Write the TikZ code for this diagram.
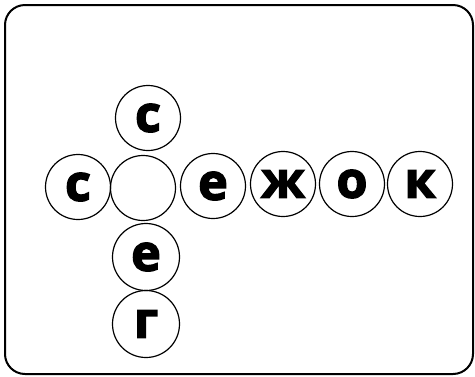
\documentclass[tikz,border=0pt]{standalone}
\usepackage{fontspec}
\newfontfamily\letterfont{Open Sans}[BoldFeatures={FakeBold=3}]
\begin{document}
\begin{tikzpicture}[x=1pt,y=-1pt,
  letter/.style={circle,draw,line width=1.2pt,minimum size=65pt,inner sep=0pt,font=\letterfont\bfseries\fontsize{50}{50}\selectfont},
  frame/.style={draw,line width=2pt,rounded corners=20pt}]
\useasboundingbox (0,0) rectangle (475,376);
\draw[frame] (5,5) rectangle (473,374);
\node[letter] (c1) at (148,118) {с};
\node[letter] (c2) at (78,187) {с};
\node[letter] (m) at (143,188) {};
\node[letter] (e1) at (213,186) {е};
\node[letter] (zh) at (283,184) {ж};
\node[letter] (o) at (352,184) {о};
\node[letter] (k) at (420,184) {к};
\node[letter,minimum size=67pt] (e2) at (146,257) {е};
\node[letter,minimum size=67pt] (g) at (146,324) {г};
\end{tikzpicture}
\end{document}
